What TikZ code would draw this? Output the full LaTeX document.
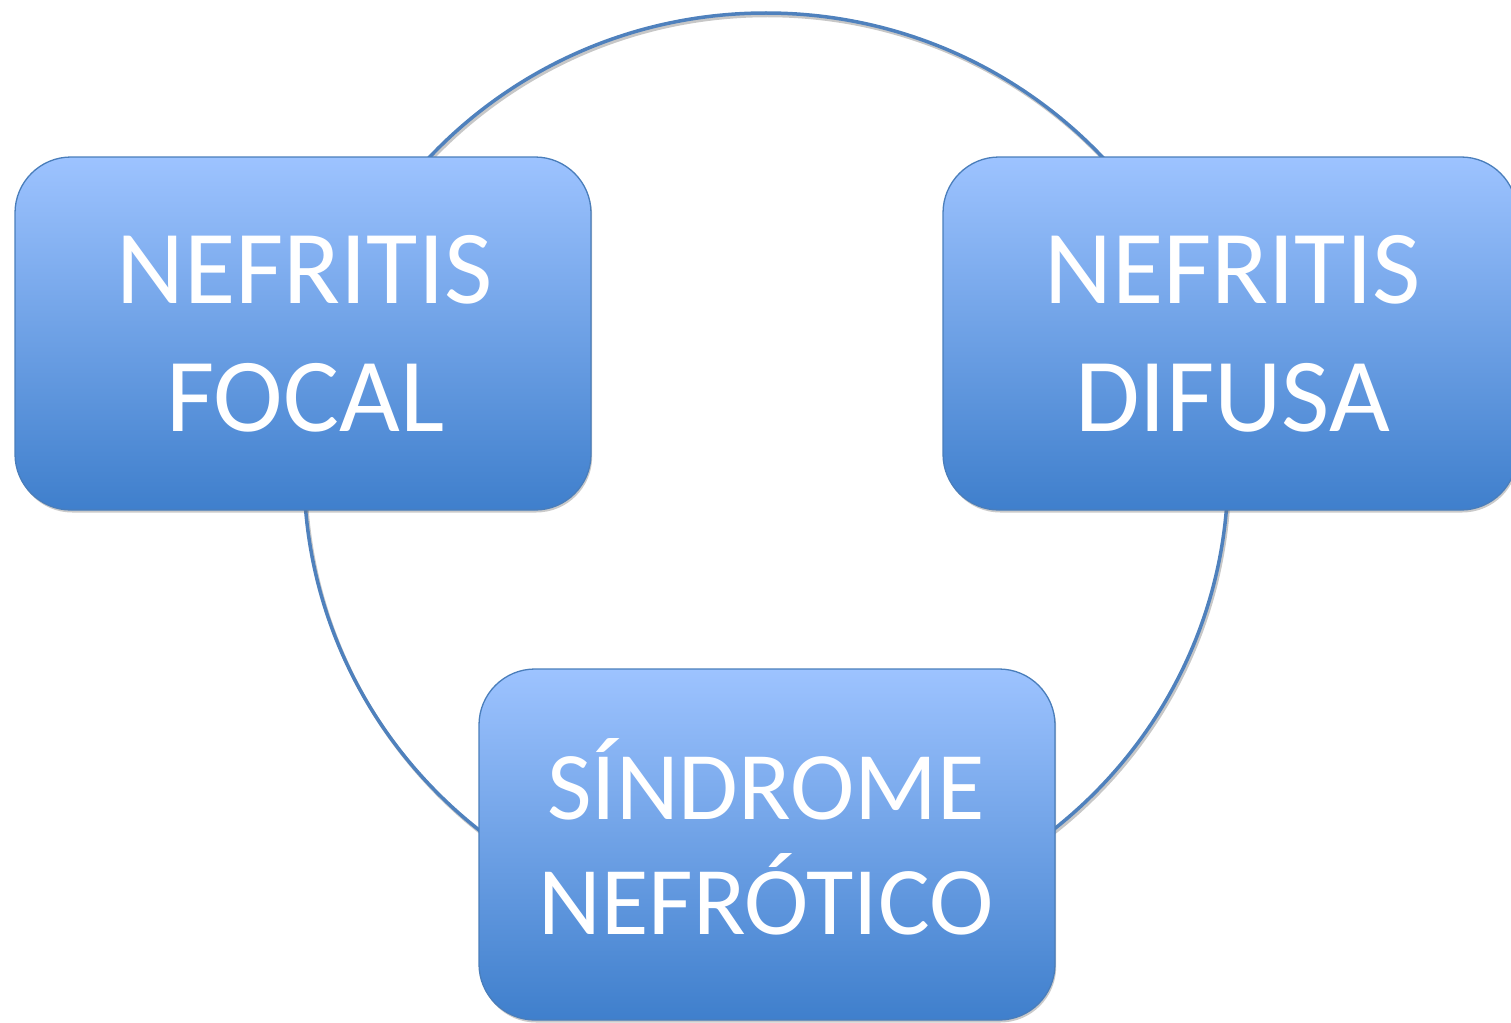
\documentclass[tikz,border=0pt]{standalone}
\usepackage{fontspec}
\setmainfont{Carlito}
\usetikzlibrary{shadows}
\definecolor{ringblue}{HTML}{4F81BD}
\definecolor{boxtop}{HTML}{9DC3FF}
\definecolor{boxbot}{HTML}{3F7FCC}
\definecolor{boxline}{HTML}{4A7EBB}
\tikzset{
  box/.style={rectangle, rounded corners=56pt, inner sep=0pt,
    top color=boxtop, bottom color=boxbot, draw=boxline, line width=1.3pt,
    drop shadow={shadow xshift=1.2pt, shadow yshift=-2.5pt, opacity=0.35, fill=black!60}},
  bigtxt/.style={anchor=base, text=white, inner sep=0pt, font=\fontsize{105}{128}\selectfont},
  midtxt/.style={anchor=base, text=white, inner sep=0pt, font=\fontsize{97}{115}\selectfont},
}
\begin{document}
\begin{tikzpicture}[x=1pt,y=-1pt]
\useasboundingbox (0,0) rectangle (1511,1022);
% ring with shadow
\draw[black!22, line width=3.5pt] (767.5,473.5) ellipse [x radius=462, y radius=458];
\draw[ringblue, line width=3.5pt] (766,471) ellipse [x radius=462, y radius=458];
% boxes
\node[box, minimum width=576pt, minimum height=353pt] (focal) at (303,333.5) {};
\node[box, minimum width=574pt, minimum height=353pt] (difusa) at (1230,333.5) {};
\node[box, minimum width=576pt, minimum height=351pt] (sindrome) at (767,844.5) {};
% texts
\node[bigtxt] (focal1) at (304.5,303) {NEFRITIS};
\node[bigtxt] (focal2) at (305.5,431) {FOCAL};
\node[bigtxt] (difusa1) at (1232.5,303) {NEFRITIS};
\node[bigtxt] (difusa2) at (1232.5,431) {DIFUSA};
\node[midtxt] (sind1) at (766,819) {SÍNDROME};
\node[midtxt] (sind2) at (766,934) {NEFRÓTICO};
\end{tikzpicture}
\end{document}
